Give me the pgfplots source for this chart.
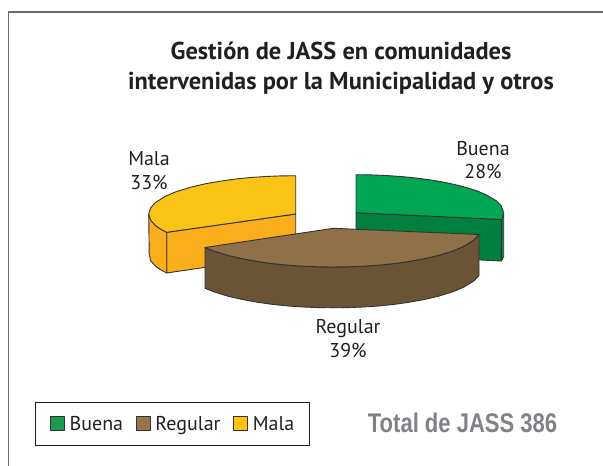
\documentclass[border=0pt]{standalone}
\usepackage{pgfplots}
\pgfplotsset{compat=1.18}
\usepackage{fontspec}
\setmainfont{PT Sans}
\newfontfamily\arialb[Scale=1]{Liberation Sans}
\definecolor{gt}{HTML}{00A651}\definecolor{gf}{HTML}{007F3F}\definecolor{gs}{HTML}{008C45}
\definecolor{bt}{HTML}{8F7047}\definecolor{bs}{HTML}{6A5435}
\definecolor{yt}{HTML}{FBC315}\definecolor{ys}{HTML}{FBAE1C}
\definecolor{lg}{HTML}{1E9A4E}\definecolor{lb}{HTML}{967349}\definecolor{ly}{HTML}{FFC20E}
\definecolor{edge}{HTML}{333333}
\definecolor{txt}{HTML}{231F20}
\begin{document}
\begin{tikzpicture}
\begin{axis}[
  scale only axis, width=603bp, height=466bp,
  xmin=0, xmax=603, ymin=0, ymax=466, y dir=reverse,
  axis lines=none,
  legend columns=-1,
  legend cell align=left,
  legend style={at={(axis description cs:0.0577,0.1373)},anchor=north west,
    draw=txt, line width=0.9bp, font=\fontsize{20bp}{24bp}\selectfont\color{txt},
    inner xsep=13bp, inner ysep=11.5bp,
    /tikz/every even column/.append style={column sep=9bp},
    /tikz/every odd column/.append style={column sep=3bp}},
  legend image code/.code={\path[draw=none,fill=none] (0bp,0bp) -- (2bp,0bp);\draw[draw=edge,line width=0.8bp,#1] (2bp,-7bp) rectangle (16bp,7bp);},
  every axis plot/.append style={line width=0.9bp, draw=edge, line join=round},
]
\path (axis cs:0,0) rectangle (axis cs:603,466);
% frame
\addplot[draw=gray!85!black,line width=1.1bp,forget plot] coordinates {(8.5,466)(8.5,12)(603,12)};
% Buena
\addplot[fill=gf,forget plot] coordinates {(356,212.7)(501.7,219.5)(501.3,261)(356,254)} -- cycle;
\addplot[fill=gs,forget plot] coordinates {(503.7,213)(503,216)(501.7,219.5)(501.3,261)(503.7,256.7)} -- cycle;
\addplot[fill=gt,forget plot] coordinates {(356,212.7)(356,174.7)(371,174.9)(386,175.5)(401,176.5)(416,178)(431,180)(446,182.6)(461,186)(476,190.5)(486,194.7)(496,200.6)(501,205.5)(503.7,212.7)(503,216)(501.7,219.5)} -- cycle;
% Mala
\addplot[fill=ys,forget plot] coordinates {(166.7,232.3)(295.7,214)(295.7,254)(166.7,273)} -- cycle;
\addplot[fill=ys,forget plot] coordinates {(148.7,214)(150.7,220.3)(155.7,225.7)(160.7,229.2)(166.7,232.3)(166.7,273)(160.7,269.8)(155.7,266.3)(150.7,260.9)(149.2,254)} -- cycle;
\addplot[fill=yt,forget plot] coordinates {(295.7,214)(295.7,175.7)(280.7,175.9)(265.7,176.5)(250.7,177.5)(235.7,179)(220.7,181.1)(205.7,183.7)(190.7,187.2)(175.7,191.9)(165.7,196.1)(155.7,202.3)(150.7,207.7)(148.7,214)(150.7,220.3)(155.7,225.7)(160.7,229.2)(166.7,232.3)} -- cycle;
% Regular
\addplot[fill=bs,forget plot] coordinates {(205,247.5)(213.3,250.8)(228.3,255.5)(243.3,258.9)(258.3,261.6)(273.3,263.7)(288.3,265.2)(303.3,266.2)(318.3,266.8)(333.3,267)(348.3,266.8)(363.3,266.2)(378.3,265.2)(393.3,263.7)(408.3,261.6)(423.3,258.9)(438.3,255.5)(453.3,250.8)(463.3,246.6)(473.3,240.5)(479,234.5)
 (479,275.8)(473.3,281.3)(463.3,287.4)(453.3,291.6)(438.3,296.3)(423.3,299.7)(408.3,302.4)(393.3,304.5)(378.3,306)(363.3,307)(348.3,307.6)(333.3,307.8)(318.3,307.6)(303.3,307)(288.3,306)(273.3,304.5)(258.3,302.4)(243.3,299.7)(228.3,296.3)(213.3,291.6)(205,288.3)} -- cycle;
\addplot[fill=bt,forget plot] coordinates {(333.3,228.3)(479,234.5)(473.3,240.5)(463.3,246.6)(453.3,250.8)(438.3,255.5)(423.3,258.9)(408.3,261.6)(393.3,263.7)(378.3,265.2)(363.3,266.2)(348.3,266.8)(333.3,267)(318.3,266.8)(303.3,266.2)(288.3,265.2)(273.3,263.7)(258.3,261.6)(243.3,258.9)(228.3,255.5)(213.3,250.8)(205,247.5)} -- cycle;
% legend
\addlegendimage{fill=lg}\addlegendentry{Buena}
\addlegendimage{fill=lb}\addlegendentry{Regular}
\addlegendimage{fill=ly}\addlegendentry{Mala}
% text
\node[font=\fontsize{24.4bp}{30bp}\selectfont\bfseries,text=txt,align=center,anchor=center] at (axis cs:341,68) {Gestión de JASS en comunidades\\intervenidas por la Municipalidad y otros};
\node[font=\fontsize{20bp}{23bp}\selectfont,text=txt,align=center] at (axis cs:483,160) {Buena\\28\%};
\node[font=\fontsize{20bp}{24bp}\selectfont,text=txt,align=center] at (axis cs:149,171) {Mala\\33\%};
\node[font=\fontsize{20bp}{24bp}\selectfont,text=txt,align=center] at (axis cs:348,339) {Regular\\39\%};
\node[font=\arialb\fontsize{27bp}{30bp}\selectfont\bfseries,text={rgb,255:red,128;green,130;blue,133},xscale=0.815,anchor=center] at (axis cs:462.5,423) {Total de JASS 386};
\end{axis}
\end{tikzpicture}
\end{document}
